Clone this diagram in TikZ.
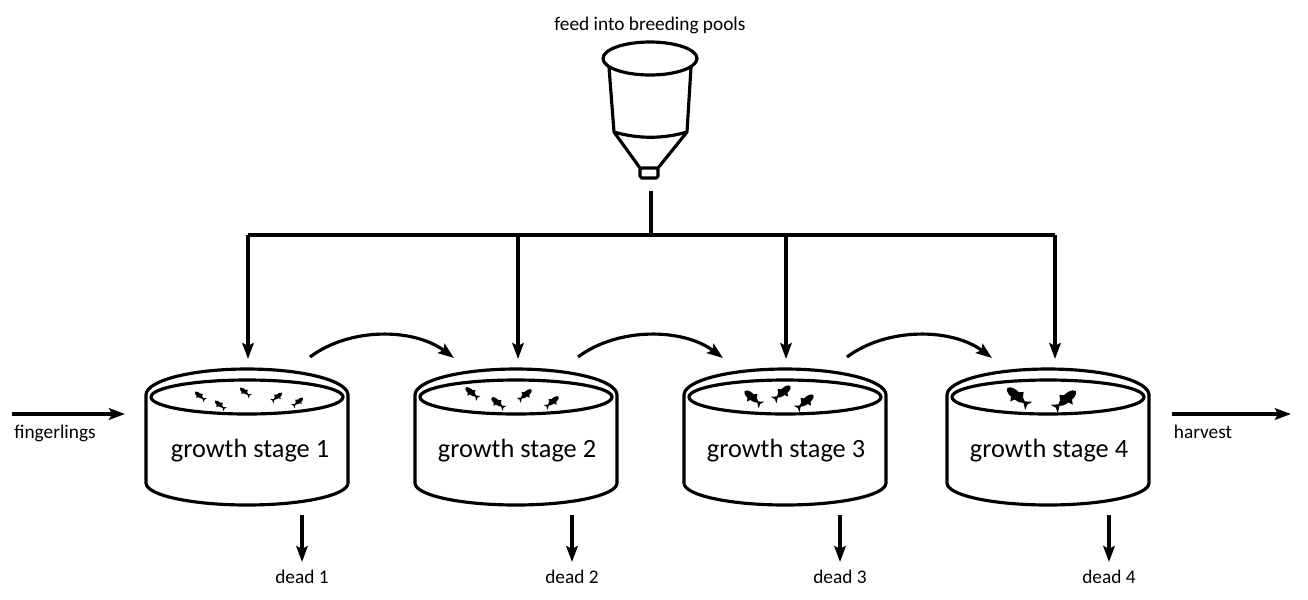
\documentclass[tikz,border=0pt]{standalone}
\usepackage{fontspec}
\setmainfont{Carlito}
\usetikzlibrary{arrows.meta}

\begin{document}
\begin{tikzpicture}[x=0.02cm, y=-0.02cm,
						labelnode/.style={font=\fontsize{11}{13}\selectfont, anchor=base, inner sep=0pt},
						stagenode/.style={font=\fontsize{15}{18}\selectfont, anchor=base, inner sep=0pt},
						flowarrow/.style={line width=1.8pt, -{Stealth[length=3.2mm,width=2.3mm,inset=0.6mm]}},
						tubline/.style={line width=1.8pt, line join=round},
						fish/.pic={
							\begin{scope}[rotate=-40]
							\fill (-14,0) .. controls (-13,-4) and (-6,-5) .. (0,-4) .. controls (4,-3) and (6,-2) .. (8,-1) -- (14,-5.5) -- (12,0) -- (14,5.5) -- (8,1) .. controls (6,3) and (3,4) .. (0,4) .. controls (-6,5) and (-13,4) .. (-14,0) -- cycle;
							\fill (-3,-3.5) -- (1,-7.5) -- (4,-3) -- cycle;
							\fill (-6,3.5) -- (-3,8.5) -- (-1,4) -- cycle;
							\end{scope}
						},
						]
						\useasboundingbox (0,0) rectangle (1308,599);
						%Nodes
						\node[labelnode]      (feedlabel) 	at	(650,30) 		{feed into breeding pools};
						\node[stagenode]      (s1) 	at 	(250,457)           {growth stage 1};
						\node[stagenode]      (s2) 	at 	(517,457)           {growth stage 2};
						\node[stagenode]      (s3) 	at 	(786,457)           {growth stage 3};
						\node[stagenode]      (s4) 	at 	(1049,457)          {growth stage 4};
						\node[labelnode]      (fingerlings) 	at 	(55,438)   {fingerlings};
						\node[labelnode]      (harvest) 	at 	(1203,438)     {harvest};
						\node[labelnode]      (d1) 	at 	(302,583)           {dead 1};
						\node[labelnode]      (d2) 	at 	(572,583)           {dead 2};
						\node[labelnode]      (d3) 	at 	(840,583)           {dead 3};
						\node[labelnode]      (d4) 	at 	(1109,583)          {dead 4};
						
						%Coordinates
						\coordinate (feedout) 	at (651,191);
						\coordinate (feedjoin) 	at (651,235);
						\coordinate (b1) 	at (248,235);
						\coordinate (b2) 	at (518,235);
						\coordinate (b3) 	at (786,235);
						\coordinate (b4) 	at (1055,235);
						\coordinate (in1) 	at (248,359);
						\coordinate (in2) 	at (518,359);
						\coordinate (in3) 	at (786,359);
						\coordinate (in4) 	at (1055,359);
						\coordinate (out1) 	at (310,357);
						\coordinate (out2) 	at (578,357);
						\coordinate (out3) 	at (847,357);
						\coordinate (next2) 	at (454,358);
						\coordinate (next3) 	at (723,358);
						\coordinate (next4) 	at (992,358);
						\coordinate (dt1) 	at (302,515);
						\coordinate (dt2) 	at (572,515);
						\coordinate (dt3) 	at (840,515);
						\coordinate (dt4) 	at (1109,515);
						\coordinate (dh1) 	at (302,562);
						\coordinate (dh2) 	at (572,562);
						\coordinate (dh3) 	at (840,562);
						\coordinate (dh4) 	at (1109,562);
						\coordinate (fingstart) at (12,414);
						\coordinate (fingend) 	at (125,414);
						\coordinate (harvstart) at (1172,414);
						\coordinate (harvend) 	at (1291,414);
						
						%Feeder
						\draw[tubline] (650,58.5) ellipse[x radius=47, y radius=16.5];
						\draw[tubline] (609,67) -- (614,132) .. controls (638,139) and (663,139) .. (687,132) -- (691,67);
						\draw[tubline] (614,132) -- (640,168);
						\draw[tubline] (687,132) -- (658,168);
						\draw[tubline, rounded corners=1] (640,168) rectangle (658,178);
						
						%Pools
						\draw[tubline] (146,395) arc[start angle=180, end angle=360, x radius=101, y radius=26] -- (348,483) arc[start angle=0, end angle=180, x radius=101, y radius=22] -- cycle;
						\draw[tubline] (247,397) ellipse[x radius=96, y radius=17];
						\draw[tubline] (415,395) arc[start angle=180, end angle=360, x radius=101, y radius=26] -- (617,483) arc[start angle=0, end angle=180, x radius=101, y radius=22] -- cycle;
						\draw[tubline] (516,397) ellipse[x radius=96, y radius=17];
						\draw[tubline] (684,395) arc[start angle=180, end angle=360, x radius=101, y radius=26] -- (886,483) arc[start angle=0, end angle=180, x radius=101, y radius=22] -- cycle;
						\draw[tubline] (785,397) ellipse[x radius=96, y radius=17];
						\draw[tubline] (947,395) arc[start angle=180, end angle=360, x radius=101, y radius=26] -- (1149,483) arc[start angle=0, end angle=180, x radius=101, y radius=22] -- cycle;
						\draw[tubline] (1048,397) ellipse[x radius=96, y radius=17];
						
						%Fish
						\pic[scale=0.48] at (200,396) {fish};
						\pic[scale=0.48] at (220,405) {fish};
						\pic[scale=0.48] at (245,392) {fish};
						\pic[xscale=-0.48, yscale=0.48] at (277,397) {fish};
						\pic[xscale=-0.48, yscale=0.48] at (298,402) {fish};
						\pic[scale=0.6] at (472,393) {fish};
						\pic[scale=0.6] at (498,403) {fish};
						\pic[xscale=-0.6, yscale=0.6] at (525,395) {fish};
						\pic[xscale=-0.6, yscale=0.6] at (552,402) {fish};
						\pic[scale=0.78] at (753,398) {fish};
						\pic[xscale=-0.78, yscale=0.78] at (782,393) {fish};
						\pic[xscale=-0.78, yscale=0.78] at (805,402) {fish};
						\pic[scale=1] at (1018,397) {fish};
						\pic[xscale=-1, yscale=1] at (1065,400) {fish};
						
						%Feed lines
						\draw[tubline] (feedout) -- (feedjoin);
						\draw[tubline] (b1) -- (b4);
						\draw[flowarrow] (b1) -- (in1);
						\draw[flowarrow] (b2) -- (in2);
						\draw[flowarrow] (b3) -- (in3);
						\draw[flowarrow] (b4) -- (in4);
						
						%Flow between stages
						\draw[flowarrow] (out1) .. controls +(40,-30) and +(-40,-30) .. (next2);
						\draw[flowarrow] (out2) .. controls +(40,-30) and +(-40,-30) .. (next3);
						\draw[flowarrow] (out3) .. controls +(40,-30) and +(-40,-30) .. (next4);
						\draw[flowarrow] (fingstart) -- (fingend);
						\draw[flowarrow] (harvstart) -- (harvend);
						
						%Dead
						\draw[flowarrow] (dt1) -- (dh1);
						\draw[flowarrow] (dt2) -- (dh2);
						\draw[flowarrow] (dt3) -- (dh3);
						\draw[flowarrow] (dt4) -- (dh4);
					\end{tikzpicture}
\end{document}
